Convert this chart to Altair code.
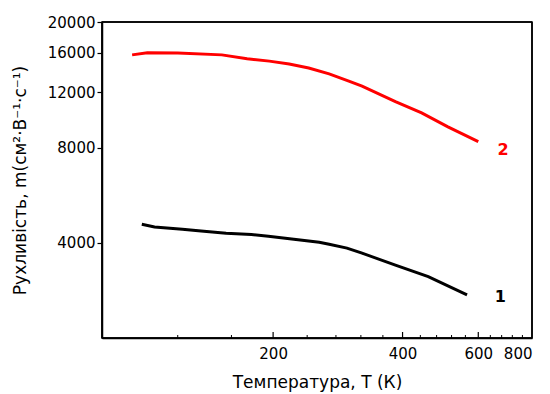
import altair as alt
import pandas as pd

# Series 2 (red)
t_red = [94, 102, 120, 152, 174, 196, 218, 242, 270, 300, 322, 385, 443, 510, 600]
mu_red = [15740, 15980, 15960, 15740, 15290, 15040, 14730, 14300, 13700, 13000, 12540, 11200, 10310, 9320, 8360]
# Series 1 (black)
t_black = [99, 106, 123, 136, 155.5, 178, 195, 226, 256, 270, 297, 322, 385, 459, 565]
mu_black = [4580, 4490, 4420, 4360, 4290, 4250, 4200, 4100, 4020, 3960, 3850, 3710, 3400, 3130, 2740]

series_names = ["1", "2"]
series_colors = ["#000000", "#ff0000"]
label_t = [675, 685]
label_mu = [2700, 7870]

x_domain = [80, 800]
y_domain = [2000, 20000]
x_labels = [200, 400, 600, 800]
x_major_ticks = [200, 400, 600]
x_minor_ticks = [120, 160, 240, 280, 320, 360, 440, 480, 520, 560, 640, 680, 720, 760]
y_ticks = [4000, 8000, 12000, 16000, 20000]

rows = []
for t, m in zip(t_black, mu_black):
    rows.append({"T": t, "mu": m, "s": "1"})
for t, m in zip(t_red, mu_red):
    rows.append({"T": t, "mu": m, "s": "2"})
df = pd.DataFrame(rows)
labels_df = pd.DataFrame({"T": label_t, "mu": label_mu, "s": series_names})

W, H = 430, 316
FONT = "DejaVu Sans"

xscale = alt.Scale(type="log", domain=x_domain, nice=False)
yscale = alt.Scale(type="log", domain=y_domain, nice=False)
cscale = alt.Scale(domain=series_names, range=series_colors)

lines = alt.Chart(df).mark_line(strokeWidth=3).encode(
    x=alt.X("T:Q", scale=xscale,
            axis=alt.Axis(title="Температура, Т (К)", values=x_labels, format="d",
                          ticks=False, domain=True, domainColor="black", domainWidth=1.5,
                          grid=False, labelPadding=8,
                          labelFont=FONT, labelFontSize=15, labelColor="black",
                          titleFont=FONT, titleFontSize=17, titleFontWeight="normal",
                          titleColor="black", titlePadding=13)),
    y=alt.Y("mu:Q", scale=yscale,
            axis=alt.Axis(title="Рухливість, m(см²·В⁻¹·с⁻¹)", values=y_ticks, format="d",
                          tickSize=5, tickColor="black", tickWidth=1.2,
                          domain=True, domainColor="black", domainWidth=1.5, grid=False,
                          labelPadding=2, labelFont=FONT, labelFontSize=15, labelColor="black",
                          titleFont=FONT, titleFontSize=17, titleFontWeight="normal",
                          titleColor="black", titlePadding=18)),
    color=alt.Color("s:N", scale=cscale, legend=None),
    detail="s:N",
)

labels = alt.Chart(labels_df).mark_text(font=FONT, fontSize=16, fontWeight="bold").encode(
    x=alt.X("T:Q", scale=xscale),
    y=alt.Y("mu:Q", scale=yscale),
    color=alt.Color("s:N", scale=cscale, legend=None),
    text="s:N",
)

major = alt.Chart(pd.DataFrame({"T": x_major_ticks})).mark_rule(color="black", strokeWidth=1.2).encode(
    x=alt.X("T:Q", scale=xscale), y=alt.value(H), y2=alt.value(H - 6)
)
minor = alt.Chart(pd.DataFrame({"T": x_minor_ticks})).mark_rule(color="black", strokeWidth=1).encode(
    x=alt.X("T:Q", scale=xscale), y=alt.value(H), y2=alt.value(H - 3)
)

# frame edges from the scale domains
vert = pd.DataFrame({"T": x_domain, "lo": [y_domain[0]] * 2, "hi": [y_domain[1]] * 2})
horiz = pd.DataFrame({"mu": y_domain, "lo": [x_domain[0]] * 2, "hi": [x_domain[1]] * 2})
frame_v = alt.Chart(vert).mark_rule(color="black", strokeWidth=1.5).encode(
    x=alt.X("T:Q", scale=xscale), y=alt.Y("lo:Q", scale=yscale), y2="hi:Q")
frame_h = alt.Chart(horiz).mark_rule(color="black", strokeWidth=1.5).encode(
    y=alt.Y("mu:Q", scale=yscale), x=alt.X("lo:Q", scale=xscale), x2="hi:Q")

chart = alt.layer(lines, major, minor, labels, frame_v, frame_h).properties(
    width=W, height=H,
    autosize=alt.AutoSizeParams(type="none"),
    padding={"left": 94, "top": 14, "right": 10, "bottom": 54},
).configure(background="white").configure_view(stroke="black", strokeWidth=1.5)

chart.save("out.html", embed_options={"renderer": "svg", "actions": False})
